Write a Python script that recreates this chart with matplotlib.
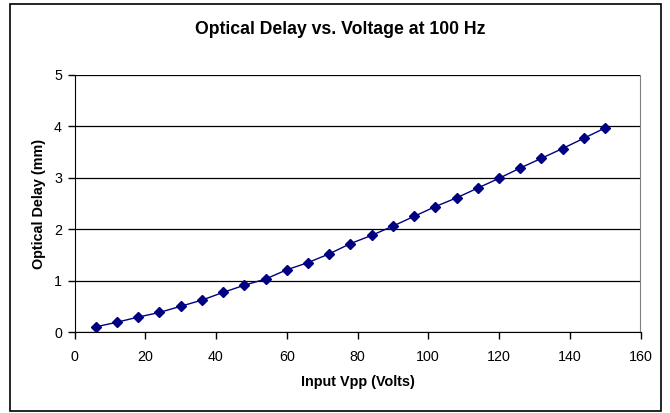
import matplotlib
matplotlib.use("Agg")
import matplotlib.pyplot as plt
from matplotlib.patches import Rectangle

voltage = [6, 12, 18, 24, 30, 36, 42, 48, 54, 60, 66, 72, 78, 84, 90, 96, 102,
           108, 114, 120, 126, 132, 138, 144, 150]
delay = [0.10, 0.19, 0.29, 0.38, 0.50, 0.62, 0.77, 0.91, 1.03, 1.21, 1.35, 1.52,
         1.72, 1.88, 2.06, 2.25, 2.44, 2.61, 2.80, 2.99, 3.19, 3.38, 3.57, 3.77, 3.97]
x_ticks = [0, 20, 40, 60, 80, 100, 120, 140, 160]
y_ticks = [0, 1, 2, 3, 4, 5]

plt.rcParams['font.family'] = ['Liberation Sans', 'DejaVu Sans']

W, H = 670, 413
fig = plt.figure(figsize=(W / 100, H / 100), dpi=100)
fig.patch.set_facecolor('white')

# outer chart border
fig.add_artist(Rectangle((9.5 / W, 1 - 410.5 / H), 651.5 / W, 407 / H,
                         transform=fig.transFigure, fill=False,
                         edgecolor='black', linewidth=1.2))

left, right, top, bottom = 74.5, 640.5, 75, 332
ax = fig.add_axes([left / W, 1 - bottom / H, (right - left) / W, (bottom - top) / H])
ax.plot(voltage, delay, color='#000080', linewidth=1.0, marker='D',
        markersize=5.5, markerfacecolor='#000080', markeredgecolor='#000080')
ax.set_xlim(0, 160)
ax.set_ylim(0, 5)
ax.set_xticks(x_ticks)
ax.set_yticks(y_ticks)
ax.grid(axis='y', color='black', linewidth=0.9)
ax.set_axisbelow(True)
ax.spines['top'].set_visible(False)
ax.spines['right'].set_color('#808080')
ax.spines['left'].set_color('black')
ax.spines['bottom'].set_color('black')
ax.tick_params(direction='out', length=5, width=1, labelsize=10.3, colors='black', pad=4)
ax.tick_params(axis='x', pad=8)
ax.set_xlabel('Input Vpp (Volts)', fontsize=10.4, fontweight='bold', labelpad=8)
ax.set_ylabel('Optical Delay (mm)', fontsize=10.4, fontweight='bold', labelpad=6)
fig.text(340 / W, 1 - 29 / H, 'Optical Delay vs. Voltage at 100 Hz', ha='center',
         va='center', fontsize=12.7, fontweight='bold')

fig.savefig('out.png', dpi=100)
